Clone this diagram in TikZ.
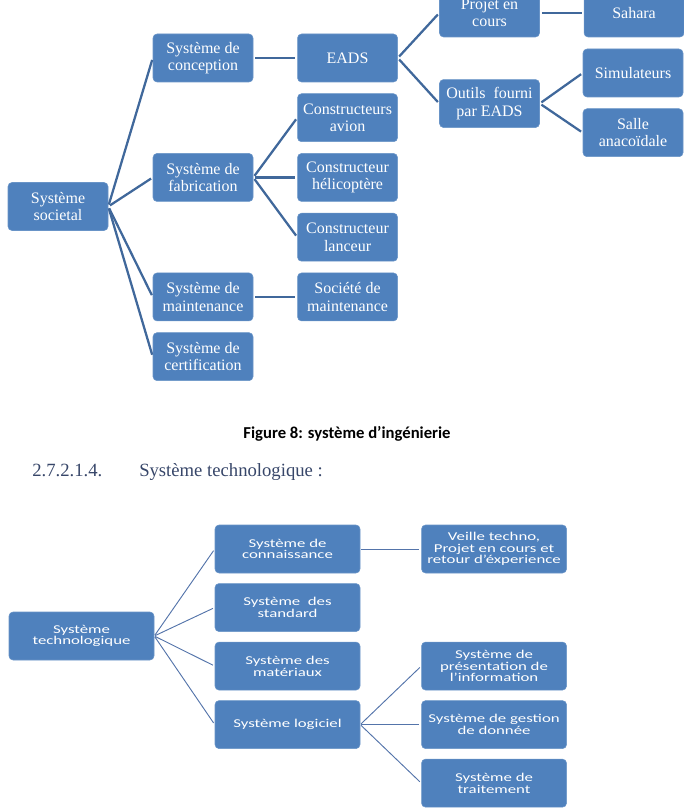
\documentclass[tikz,border=0pt]{standalone}
\usepackage{fontspec}
\setmainfont{Liberation Serif}
\newfontfamily\smartfont[FakeStretch=1.4]{Carlito}
\newfontfamily\figcapfont{Carlito}
\usepackage{tikz}
\usetikzlibrary{positioning}
\definecolor{boxblue}{RGB}{79,129,189}
\definecolor{topline}{RGB}{64,104,155}
\definecolor{botline}{RGB}{84,116,170}
\definecolor{headblue}{RGB}{55,70,105}

\begin{document}
\begin{tikzpicture}[x=0.75pt,y=-0.75pt,
    node distance=8.4pt and 33pt,
    top_node/.style={rectangle, rounded corners=3pt, fill=boxblue, draw=boxblue!85!white, text=white, align=center, minimum width=75pt, minimum height=36pt, inner sep=1pt, font=\fontsize{12}{13}\selectfont},
    tech_node/.style={top_node, minimum width=108.75pt, font=\smartfont\fontsize{9}{8.8}\selectfont},
    top_link/.style={draw=topline, line width=1.7pt, shorten <=1.5pt, shorten >=1.5pt},
    tech_link/.style={draw=botline, line width=0.7pt, shorten <=0.8pt, shorten >=1.5pt},
    ]
    \useasboundingbox (0,0) rectangle (684,809);

    % Nodes (systeme d'ingenierie)
    \node[top_node] (societal) at (58,206.5) {Système\\societal};
    \node[top_node] (concep) at (203,58) {Système de\\conception};
    \node[top_node] (eads) [right=of concep] {EADS};
    \node[top_node] (avion) [below=of eads] {Constructeurs\\avion};
    \node[top_node] (helico) [below=of avion] {Constructeur\\hélicoptère};
    \node[top_node] (lanceur) [below=of helico] {Constructeur\\lanceur};
    \node[top_node] (societe) [below=of lanceur] {Société de\\maintenance};
    \node[top_node] (fabric) [left=of helico] {Système de\\fabrication};
    \node[top_node] (maint) [left=of societe] {Système de\\maintenance};
    \node[top_node] (certif) [below=of maint] {Système de\\certification};
    \node[top_node] (projet) at (489.5,13) {Projet en\\cours};
    \node[top_node] (outils) [below=31.5pt of projet] {Outils\ \ fourni\\par EADS};
    \node[top_node] (sahara) [right=of projet] {Sahara};
    \node[top_node] (simul) at (633,73) {Simulateurs};
    \node[top_node] (salle) [below=of simul] {Salle\\anacoïdale};

    % Caption and heading
    \node[font=\figcapfont\bfseries\fontsize{12.5}{15}\selectfont, anchor=base] (caption) at (347,438) {Figure 8: système d’ingénierie};
    \node[font=\fontsize{14}{17}\selectfont, text=headblue, anchor=base west, inner sep=0pt] (hnum) at (32,476.5) {2.7.2.1.4.};
    \node[font=\fontsize{14}{17}\selectfont, text=headblue, anchor=base west, inner sep=0pt] (htitle) at (139,476.5) {Système technologique :};

    % Nodes (systeme technologique)
    \node[tech_node] (techno) at (81.5,636) {Système\\technologique};
    \node[tech_node] (connais) at (287.5,549) {Système de\\connaissance};
    \node[tech_node] (standard) [below=7.5pt of connais] {Système\ \ des\\standard};
    \node[tech_node] (mater) [below=7.5pt of standard] {Système des\\matériaux};
    \node[tech_node] (logic) [below=7.5pt of mater] {Système logiciel};
    \node[tech_node] (veille) [right=45.75pt of connais] {Veille techno,\\Projet en cours et\\retour d’éxperience};
    \node[tech_node] (gestion) [right=45.75pt of logic] {Système de gestion\\de donnée};
    \node[tech_node] (present) [above=7.5pt of gestion] {Système de\\présentation de\\l’information};
    \node[tech_node] (trait) [below=7.5pt of gestion] {Système de\\traitement};

    % Links
    \draw[top_link] (societal.east) -- (concep.west); \draw[top_link] (societal.east) -- (fabric.west);
    \draw[top_link] (societal.east) -- (maint.west); \draw[top_link] (societal.east) -- (certif.west);
    \draw[top_link] (concep) -- (eads);
    \draw[top_link] (eads.east) -- (projet.west); \draw[top_link] (eads.east) -- (outils.west);
    \draw[top_link] (projet) -- (sahara);
    \draw[top_link] (outils.east) -- (simul.west); \draw[top_link] (outils.east) -- (salle.west);
    \draw[top_link] (fabric.east) -- (avion.west); \draw[top_link] (fabric.east) -- (helico.west);
    \draw[top_link] (fabric.east) -- (lanceur.west);
    \draw[top_link] (maint) -- (societe);

    \draw[tech_link] (techno.east) -- (connais.west); \draw[tech_link] (techno.east) -- (standard.west);
    \draw[tech_link] (techno.east) -- (mater.west); \draw[tech_link] (techno.east) -- (logic.west);
    \draw[tech_link] (connais) -- (veille);
    \draw[tech_link] (logic.east) -- (present.west); \draw[tech_link] (logic.east) -- (gestion.west);
    \draw[tech_link] (logic.east) -- (trait.west);
\end{tikzpicture}
\end{document}
